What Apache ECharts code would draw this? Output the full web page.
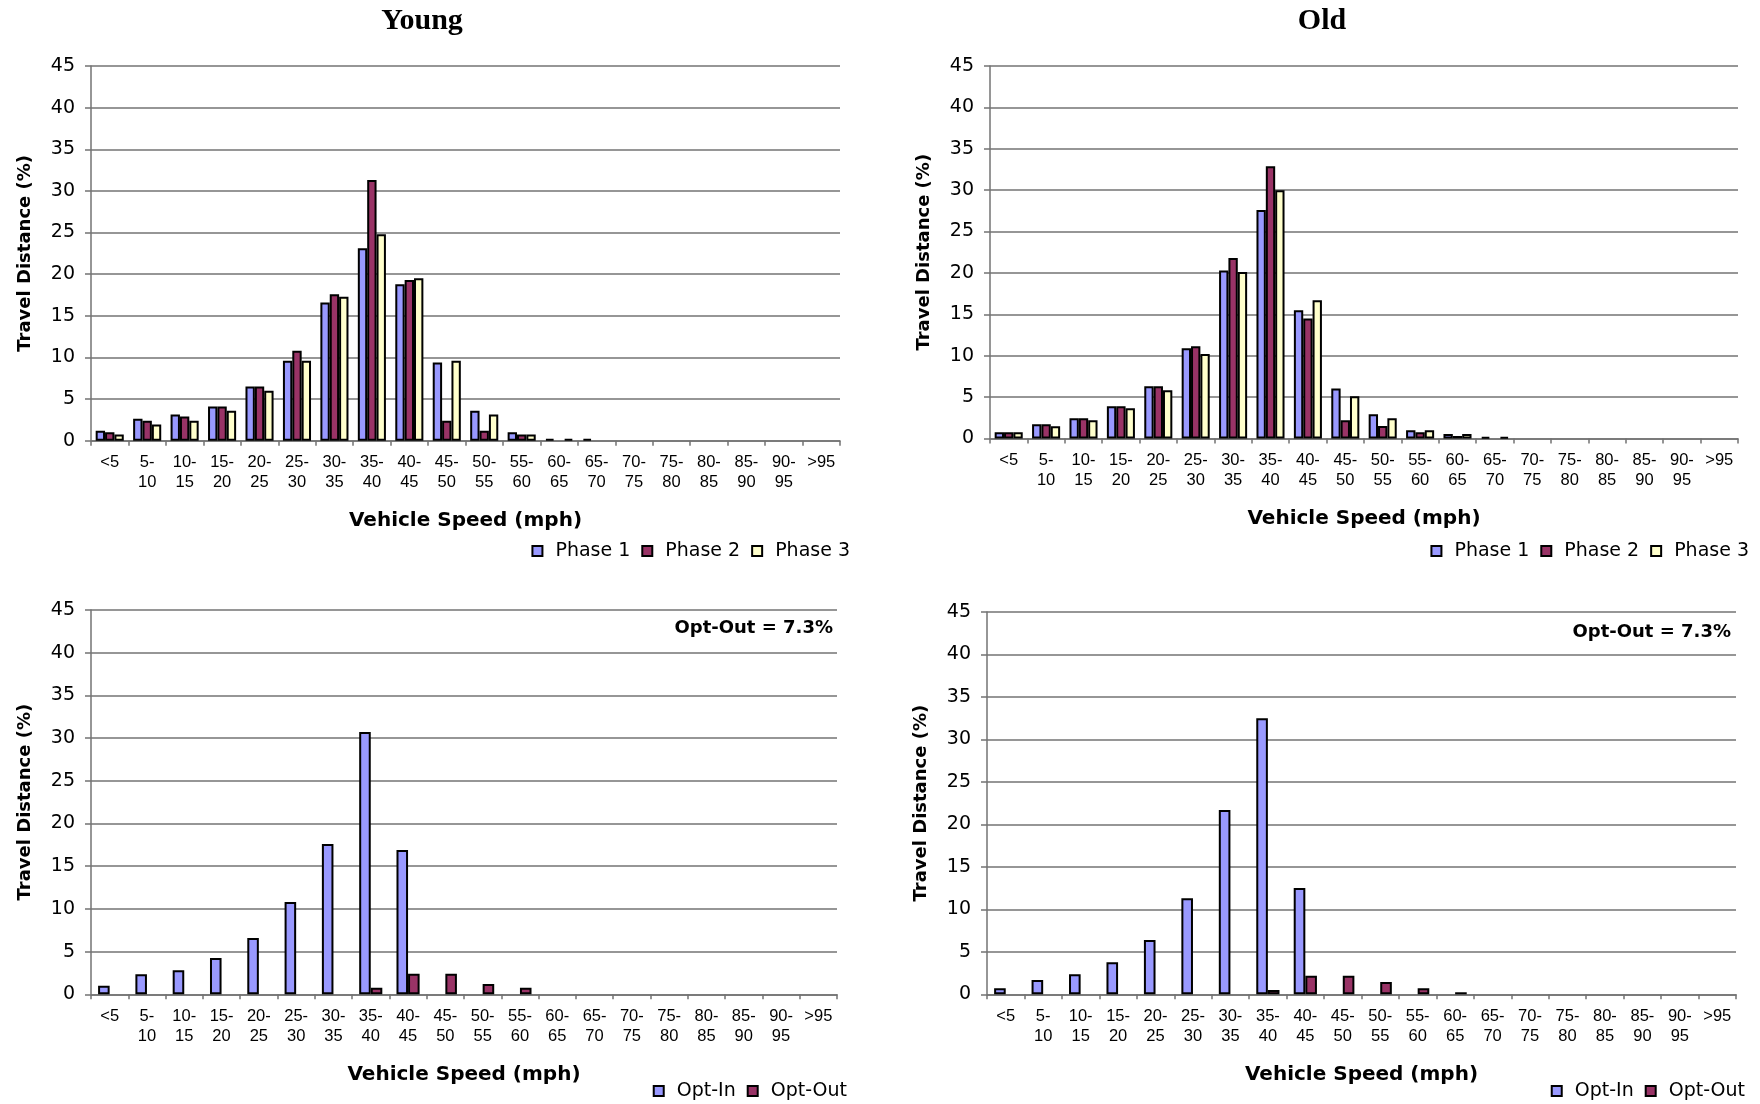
<!DOCTYPE html>
<html>
<head>
<meta charset="utf-8">
<script src="https://cdn.jsdelivr.net/npm/echarts@6/dist/echarts.min.js"></script>
<style>
  html, body { margin: 0; padding: 0; background: #ffffff; }
  #chart { width: 1760px; height: 1104px; }
</style>
</head>
<body>
<div id="chart"></div>
<script>
// Speed bins (mph)
const speedBins = ['<5', '5-\n10', '10-\n15', '15-\n20', '20-\n25', '25-\n30', '30-\n35', '35-\n40',
  '40-\n45', '45-\n50', '50-\n55', '55-\n60', '60-\n65', '65-\n70', '70-\n75', '75-\n80',
  '80-\n85', '85-\n90', '90-\n95', '>95'];

// Share of travel distance (%) per speed bin
const youngPhase1 = [1.2, 2.65, 3.15, 4.1, 6.5, 9.6, 16.6, 23.1, 18.8, 9.4, 3.6, 1.0, 0.2, 0.2, 0, 0, 0, 0, 0, 0];
const youngPhase2 = [1.0, 2.4, 2.9, 4.1, 6.5, 10.8, 17.6, 31.3, 19.3, 2.4, 1.2, 0.75, 0, 0, 0, 0, 0, 0, 0, 0];
const youngPhase3 = [0.75, 1.95, 2.4, 3.6, 6.0, 9.6, 17.3, 24.8, 19.5, 9.6, 3.15, 0.75, 0.2, 0, 0, 0, 0, 0, 0, 0];

const oldPhase1 = [0.75, 1.72, 2.45, 3.9, 6.3, 10.9, 20.3, 27.6, 15.5, 6.05, 2.93, 1.0, 0.55, 0.2, 0, 0, 0, 0, 0, 0];
const oldPhase2 = [0.75, 1.72, 2.45, 3.9, 6.3, 11.15, 21.8, 32.9, 14.5, 2.2, 1.5, 0.75, 0.3, 0, 0, 0, 0, 0, 0, 0];
const oldPhase3 = [0.75, 1.48, 2.2, 3.65, 5.83, 10.2, 20.1, 30.0, 16.7, 5.1, 2.45, 1.0, 0.55, 0.2, 0, 0, 0, 0, 0, 0];

const youngOptIn  = [1.0, 2.35, 2.83, 4.25, 6.6, 10.8, 17.6, 30.7, 16.9, 0, 0, 0, 0, 0, 0, 0, 0, 0, 0, 0];
const youngOptOut = [0, 0, 0, 0, 0, 0, 0, 0.76, 2.4, 2.4, 1.2, 0.76, 0, 0, 0, 0, 0, 0, 0, 0];
const oldOptIn    = [0.72, 1.68, 2.37, 3.77, 6.38, 11.3, 21.7, 32.5, 12.5, 0, 0, 0, 0, 0, 0, 0, 0, 0, 0, 0];
const oldOptOut   = [0, 0, 0, 0, 0, 0, 0, 0.52, 2.17, 2.17, 1.44, 0.72, 0.24, 0, 0, 0, 0, 0, 0, 0];

const panelTitles = ['Young', 'Old'];
const optOutNote = 'Opt-Out = 7.3%';
const yTitle = 'Travel Distance (%)';
const xTitle = 'Vehicle Speed (mph)';

const COLOR_P1 = '#9999ff';
const COLOR_P2 = '#993366';
const COLOR_P3 = '#ffffcc';
const GRID_GRAY = '#737373';
const SANS = 'DejaVu Sans, Arial, sans-serif';
const ARIAL = 'Liberation Sans, Arial, sans-serif';

const grids = [
  { left: 91,  top: 66,  width: 749, height: 374.7 },
  { left: 990, top: 66,  width: 748, height: 372.5 },
  { left: 91,  top: 610, width: 746, height: 384.3 },
  { left: 987, top: 612, width: 749, height: 382.3 }
];

function makeX(i) {
  return {
    type: 'category', gridIndex: i, data: speedBins,
    name: xTitle, nameLocation: 'middle', nameGap: 70,
    nameTextStyle: { fontFamily: SANS, fontWeight: 'bold', fontSize: 20, color: '#000' },
    axisLine: { show: true, lineStyle: { color: GRID_GRAY, width: 1.5 } },
    axisTick: { show: true, length: 5, lineStyle: { color: GRID_GRAY, width: 1.5 } },
    axisLabel: { interval: 0, fontFamily: ARIAL, fontSize: 16.5, lineHeight: 20, margin: 12, color: '#000' },
    splitLine: { show: false }
  };
}
function makeY(i) {
  return {
    type: 'value', gridIndex: i, min: 0, max: 45, interval: 5,
    name: yTitle, nameLocation: 'middle', nameGap: 57, nameRotate: 90,
    nameTextStyle: { fontFamily: SANS, fontWeight: 'bold', fontSize: 18, color: '#000' },
    axisLine: { show: true, lineStyle: { color: GRID_GRAY, width: 1.5 } },
    axisTick: { show: true, length: 6, lineStyle: { color: GRID_GRAY, width: 1.5 } },
    axisLabel: { fontFamily: SANS, fontSize: 19, margin: 16, color: '#000' },
    splitLine: { show: true, lineStyle: { color: GRID_GRAY, width: 1.5 } }
  };
}
// Empty bins get no bar at all (a zero-height bar would still show its outline)
function bar(name, data, color, idx, catGap) {
  return {
    type: 'bar', name: name, data: data.map(v => (v === 0 ? '-' : v)),
    xAxisIndex: idx, yAxisIndex: idx,
    barGap: '0%', barCategoryGap: catGap,
    itemStyle: { color: color, borderColor: '#000', borderWidth: 2 },
    emphasis: { disabled: true }, animation: false
  };
}
function legend(names, right, top) {
  return {
    data: names, right: right, top: top, padding: 0, itemGap: 11,
    itemWidth: 10, itemHeight: 10, icon: 'rect', selectedMode: false,
    textStyle: { fontFamily: SANS, fontSize: 19, lineHeight: 20, color: '#000', padding: [0, 0, 0, 8] }
  };
}

const phases = ['Phase 1', 'Phase 2', 'Phase 3'];
const opts = ['Opt-In', 'Opt-Out'];

const option = {
  backgroundColor: '#ffffff',
  animation: false,
  grid: grids,
  xAxis: [0, 1, 2, 3].map(makeX),
  yAxis: [0, 1, 2, 3].map(makeY),
  legend: [
    legend(phases, 910, 541),
    legend(phases, 11, 541),
    legend(opts, 913, 1081),
    legend(opts, 15, 1081)
  ],
  series: [
    bar('Phase 1', youngPhase1, COLOR_P1, 0, '25%'),
    bar('Phase 2', youngPhase2, COLOR_P2, 0, '25%'),
    bar('Phase 3', youngPhase3, COLOR_P3, 0, '25%'),
    bar('Phase 1', oldPhase1, COLOR_P1, 1, '25%'),
    bar('Phase 2', oldPhase2, COLOR_P2, 1, '25%'),
    bar('Phase 3', oldPhase3, COLOR_P3, 1, '25%'),
    bar('Opt-In', youngOptIn, COLOR_P1, 2, '38%'),
    bar('Opt-Out', youngOptOut, COLOR_P2, 2, '38%'),
    bar('Opt-In', oldOptIn, COLOR_P1, 3, '38%'),
    bar('Opt-Out', oldOptOut, COLOR_P2, 3, '38%')
  ],
  graphic: [
    { type: 'text', x: 422, y: 21, style: { text: panelTitles[0], textAlign: 'center', textVerticalAlign: 'middle',
      font: 'bold 30px "Liberation Serif", "Times New Roman", serif', fill: '#000' } },
    { type: 'text', x: 1322, y: 21, style: { text: panelTitles[1], textAlign: 'center', textVerticalAlign: 'middle',
      font: 'bold 30px "Liberation Serif", "Times New Roman", serif', fill: '#000' } },
    { type: 'text', x: 833, y: 628, style: { text: optOutNote, textAlign: 'right', textVerticalAlign: 'middle',
      font: 'bold 18px "DejaVu Sans", Arial, sans-serif', fill: '#000' } },
    { type: 'text', x: 1731, y: 632, style: { text: optOutNote, textAlign: 'right', textVerticalAlign: 'middle',
      font: 'bold 18px "DejaVu Sans", Arial, sans-serif', fill: '#000' } }
  ]
};

const chart = echarts.init(document.getElementById('chart'), null, { renderer: 'canvas' });
chart.setOption(option);
</script>
</body>
</html>
